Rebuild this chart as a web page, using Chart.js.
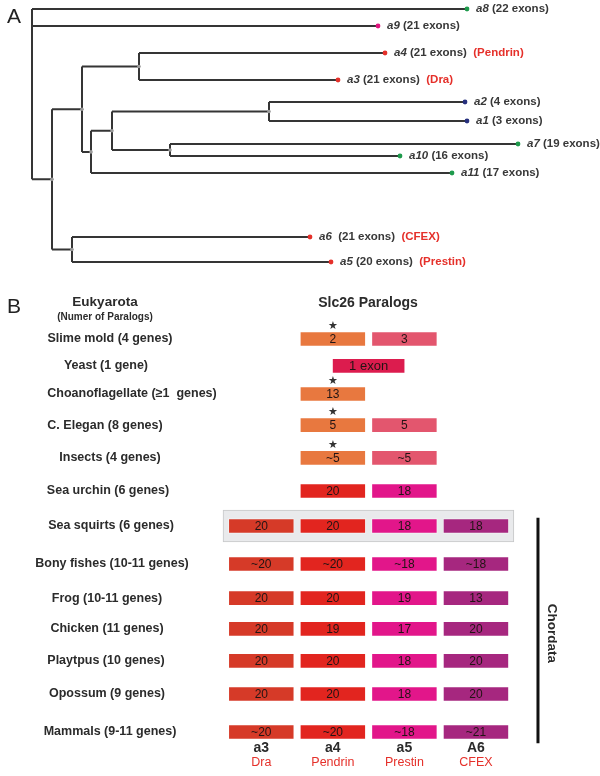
<!DOCTYPE html>
<html>
<head>
<meta charset="utf-8">
<script src="https://cdn.jsdelivr.net/npm/chart.js@4.4.0/dist/chart.umd.min.js"></script>
<style>
  body { margin: 0; background: #fff; }
  #wrap { position: relative; width: 600px; height: 776px; }
</style>
</head>
<body>
<div id="wrap"><canvas id="fig" width="600" height="776"></canvas></div>
<script>
// ---- panel A: Slc26 paralog tree ----
const leafNames = ['a8', 'a9', 'a4', 'a3', 'a2', 'a1', 'a7', 'a10', 'a11', 'a6', 'a5'];
const leafExons = [22, 21, 21, 21, 4, 3, 19, 16, 17, 21, 20];
const leafAlias = ['', '', 'Pendrin', 'Dra', '', '', '', '', '', 'CFEX', 'Prestin'];
const leafDepth = [0.435, 0.346, 0.353, 0.306, 0.433, 0.435, 0.486, 0.368, 0.420, 0.278, 0.299];
const leafRow = [0.9, 2.6, 5.3, 8.0, 10.2, 12.1, 14.4, 15.6, 17.3, 23.7, 26.2];
const leafGroup = ['g', 'p', 'r', 'r', 'b', 'b', 'g', 'g', 'g', 'r', 'r'];

// internal nodes (depth from root, children)
const nodeIds = ['root', 'n1', 'n2', 'n3', 'n4', 'n5', 'n6', 'n7', 'n8'];
const nodeDepth = [0, 0.020, 0.050, 0.107, 0.059, 0.080, 0.237, 0.138, 0.040];
const nodeKids = [
  ['a8', 'a9', 'n1'], ['n2', 'n8'], ['n3', 'n4'], ['a4', 'a3'], ['n5', 'a11'],
  ['n6', 'n7'], ['a2', 'a1'], ['a7', 'a10'], ['a6', 'a5']
];

// ---- panel B: exon counts per species group ----
const species = [
  'Slime mold (4 genes)', 'Yeast (1 gene)', 'Choanoflagellate (\u22651  genes)',
  'C. Elegan (8 genes)', 'Insects (4 genes)', 'Sea urchin (6 genes)',
  'Sea squirts (6 genes)', 'Bony fishes (10-11 genes)', 'Frog (10-11 genes)',
  'Chicken (11 genes)', 'Playtpus (10 genes)', 'Opossum (9 genes)', 'Mammals (9-11 genes)'
];
const speciesRow = [0, 0.82, 1.68, 2.63, 3.63, 4.64, 5.71, 6.87, 7.91, 8.85, 9.83, 10.84, 12];
const paralogs = ['a3', 'a4', 'a5', 'A6'];
const paralogNames = ['Dra', 'Pendrin', 'Prestin', 'CFEX'];
const draExons = [null, null, null, null, null, null, '20', '~20', '20', '20', '20', '20', '~20'];
const pendrinExons = ['2', null, '13', '5', '~5', '20', '20', '~20', '20', '19', '20', '20', '~20'];
const prestinExons = ['3', null, null, '5', '~5', '18', '18', '~18', '19', '17', '18', '18', '~18'];
const cfexExons = [null, null, null, null, null, null, '18', '~18', '13', '20', '20', '20', '~21'];
const yeastExons = [null, '1 exon', null, null, null, null, null, null, null, null, null, null, null];
const starRows = [0, 2, 3, 4];
const chordataRows = [6, 12];

// ---- styles / layout ----
const tipColor = { g: '#1e9a4c', p: '#e0157f', r: '#e5302a', b: '#27307e' };
const colColor = ['#d63a28', '#e2251f', '#e2168a', '#a6277f'];
const earlyColor = ['#d63a28', '#e8783f', '#e3566e', '#a6277f'];
const yeastColor = '#dc1c4e';
const redText = '#e5302a';
const darkText = '#2b2b2b';
const labelCentre = [110, 106, 132, 105, 110, 108, 111, 112, 107, 107, 106, 107, 110];
const fontFam = '"Liberation Sans", Arial, sans-serif';

function cObj(id) {
  return document.getElementById(id);
}

function nodeX(id) {
  const li = leafNames.indexOf(id);
  return li >= 0 ? leafDepth[li] : nodeDepth[nodeIds.indexOf(id)];
}
function nodeY(id) {
  const li = leafNames.indexOf(id);
  if (li >= 0) return leafRow[li];
  const ys = nodeKids[nodeIds.indexOf(id)].map(nodeY);
  return (Math.min(...ys) + Math.max(...ys)) / 2;
}

// build branch segments, broken by gaps
var branches = [];
var nodeDots = [];
nodeIds.forEach(function (id, i) {
  const d = nodeDepth[i];
  const ys = nodeKids[i].map(nodeY);
  branches.push({ x: d, y: Math.min(...ys) }, { x: d, y: Math.max(...ys) }, { x: null, y: null });
  nodeKids[i].forEach(function (k) {
    branches.push({ x: d, y: nodeY(k) }, { x: nodeX(k), y: nodeY(k) }, { x: null, y: null });
  });
  if (id != 'root') nodeDots.push({ x: d, y: nodeY(id) });
});

var tips = leafNames.map(function (n, i) { return { x: leafDepth[i], y: leafRow[i] }; });

var datasets = [
  {
    type: 'line', label: 'branches', data: branches, xAxisID: 'xt', yAxisID: 'yt',
    borderColor: '#353535', borderWidth: 2, pointRadius: 0, spanGaps: false,
    tension: 0, fill: false, clip: false, order: 1
  },
  {
    type: 'scatter', label: 'nodes', data: nodeDots, xAxisID: 'xt', yAxisID: 'yt',
    pointRadius: 1.8, pointBackgroundColor: '#9a9a9a', pointBorderWidth: 0, order: 0
  },
  {
    type: 'scatter', label: 'tips', data: tips, xAxisID: 'xt', yAxisID: 'yt',
    pointRadius: 2.4, pointBorderWidth: 0, order: 0,
    pointBackgroundColor: leafGroup.map(function (g) { return tipColor[g]; })
  }
];

// gray band behind the sea squirt row
datasets.push({
  type: 'bar', label: 'band', indexAxis: 'y', grouped: false, xAxisID: 'xg', yAxisID: 'yg',
  data: [{ y: speciesRow[6], x: [-0.535, 3.53] }],
  backgroundColor: '#e9eaec', borderColor: '#c6c7c9', borderWidth: 1, borderSkipped: false,
  barThickness: 32, order: 9
});

// one bar dataset per paralog column
[draExons, pendrinExons, prestinExons, cfexExons].forEach(function (vals, c) {
  var data = [], colors = [], texts = [];
  vals.forEach(function (v, r) {
    if (v == null) return;
    data.push({ y: speciesRow[r], x: [c - 0.46, c + 0.46] });
    colors.push(r < 5 ? earlyColor[c] : colColor[c]);
    texts.push(v);
  });
  datasets.push({
    type: 'bar', label: paralogs[c], indexAxis: 'y', grouped: false, xAxisID: 'xg', yAxisID: 'yg',
    data: data, texts: texts, backgroundColor: colors,
    borderColor: 'rgba(255,255,255,0.45)', borderWidth: 1, borderSkipped: false,
    barThickness: 15, order: 2
  });
});

// the yeast gene spans between a4 and a5
var yData = [], yTexts = [];
yeastExons.forEach(function (v, r) {
  if (v == null) return;
  yData.push({ y: speciesRow[r], x: [1.5 - 0.51, 1.5 + 0.51] });
  yTexts.push(v);
});
datasets.push({
  type: 'bar', label: 'yeast', indexAxis: 'y', grouped: false, xAxisID: 'xg', yAxisID: 'yg',
  data: yData, texts: yTexts, backgroundColor: yeastColor, bigText: true,
  borderColor: 'rgba(255,255,255,0.45)', borderWidth: 1, borderSkipped: false,
  barThickness: 15, order: 2
});

// chordata bracket
datasets.push({
  type: 'line', label: 'chordata', xAxisID: 'xg', yAxisID: 'yg',
  data: [{ x: 3.867, y: speciesRow[chordataRows[0]] - 0.25 }, { x: 3.867, y: speciesRow[chordataRows[1]] + 0.34 }],
  borderColor: '#111', borderWidth: 3, pointRadius: 0, fill: false, order: 1
});

function txt(ctx, s, x, y, font, color, align) {
  ctx.font = font;
  ctx.fillStyle = color;
  ctx.textAlign = align || 'left';
  ctx.textBaseline = 'middle';
  ctx.fillText(s, x, y);
  return ctx.measureText(s).width;
}

const labelPlugin = {
  id: 'labels',
  afterDatasetsDraw(chart) {
    const ctx = chart.ctx;
    const xt = chart.scales.xt, yt = chart.scales.yt;
    const xg = chart.scales.xg, yg = chart.scales.yg;
    ctx.save();

    // panel letters
    txt(ctx, 'A', 7, 17, '21px ' + fontFam, '#222');
    txt(ctx, 'B', 7, 307, '21px ' + fontFam, '#222');

    // leaf labels
    leafNames.forEach(function (n, i) {
      var x = xt.getPixelForValue(leafDepth[i]) + 9;
      var y = yt.getPixelForValue(leafRow[i]);
      x += txt(ctx, n, x, y, 'italic bold 11.5px ' + fontFam, '#383838');
      var ex = (n == 'a6' ? '  (' : ' (') + leafExons[i] + ' exons)';
      x += txt(ctx, ex, x, y, 'bold 11.5px ' + fontFam, '#383838');
      if (leafAlias[i]) txt(ctx, '  (' + leafAlias[i] + ')', x, y, 'bold 11.5px ' + fontFam, redText);
    });

    // headings
    txt(ctx, 'Eukyarota', 105, 302, 'bold 13.5px ' + fontFam, darkText, 'center');
    txt(ctx, '(Numer of Paralogs)', 105, 317, 'bold 10px ' + fontFam, darkText, 'center');
    txt(ctx, 'Slc26 Paralogs', 368, 303, 'bold 14px ' + fontFam, darkText, 'center');

    // species labels
    species.forEach(function (s, r) {
      txt(ctx, s, labelCentre[r], yg.getPixelForValue(speciesRow[r]), 'bold 12.5px ' + fontFam, darkText, 'center');
    });

    // numbers inside the boxes
    chart.data.datasets.forEach(function (ds, di) {
      if (!ds.texts) return;
      chart.getDatasetMeta(di).data.forEach(function (el, j) {
        var p = el.getCenterPoint();
        txt(ctx, ds.texts[j], p.x, p.y + 0.5, (ds.bigText ? '13px ' : '12px ') + fontFam, '#221414', 'center');
      });
    });

    // stars over the ancestral a4 boxes
    starRows.forEach(function (r) {
      txt(ctx, '\u2605', xg.getPixelForValue(1), yg.getPixelForValue(speciesRow[r]) - 13, '11px "DejaVu Sans"', '#333', 'center');
    });

    // column footers
    paralogs.forEach(function (p, c) {
      var x = xg.getPixelForValue(c);
      txt(ctx, p, x, 748, 'bold 14px ' + fontFam, darkText, 'center');
      txt(ctx, paralogNames[c], x, 763, '12.5px ' + fontFam, redText, 'center');
    });

    // Chordata, vertical
    ctx.translate(552, (yg.getPixelForValue(speciesRow[8]) + yg.getPixelForValue(speciesRow[9])) / 2 + 20);
    ctx.rotate(Math.PI / 2);
    txt(ctx, 'Chordata', 0, 0, 'bold 13.5px ' + fontFam, darkText, 'center');
    ctx.restore();
  }
};

const hidden = { type: 'linear', display: false, offset: false, grace: 0, beginAtZero: false };

var myChart = new Chart(cObj('fig'), {
  type: 'bar',
  data: { datasets: datasets },
  options: {
    responsive: false,
    animation: false,
    events: [],
    layout: { padding: 0, autoPadding: false },
    scales: {
      xt: Object.assign({}, hidden, { min: -0.032, max: 0.568 }),
      yt: Object.assign({}, hidden, { min: 0, max: 77.6, reverse: true }),
      xg: Object.assign({}, hidden, { min: -261.3 / 71.55, max: 338.7 / 71.55 }),
      yg: Object.assign({}, hidden, { min: -339 / 32.75, max: 437 / 32.75, reverse: true })
    },
    plugins: {
      legend: { display: false },
      tooltip: { enabled: false }
    }
  },
  plugins: [labelPlugin]
});
</script>
</body>
</html>
